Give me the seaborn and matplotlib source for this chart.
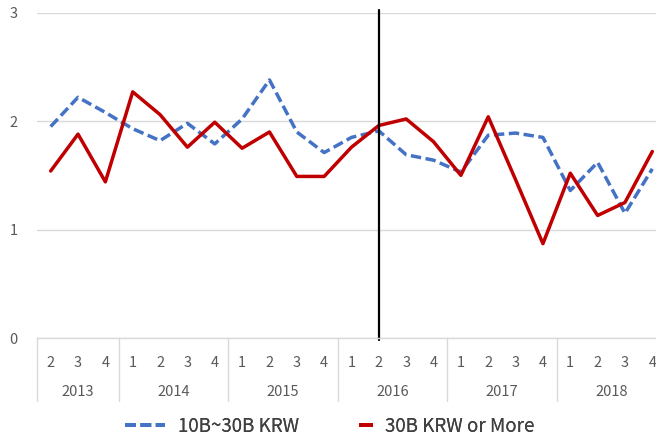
import numpy as np
import pandas as pd
import matplotlib
matplotlib.use("Agg")
import matplotlib.pyplot as plt
import matplotlib.transforms as mtransforms
from matplotlib.lines import Line2D
import seaborn as sns

# --- Data ---
YEARS = [2013, 2013, 2013,
         2014, 2014, 2014, 2014,
         2015, 2015, 2015, 2015,
         2016, 2016, 2016, 2016,
         2017, 2017, 2017, 2017,
         2018, 2018, 2018, 2018]
QUARTERS = [2, 3, 4,
            1, 2, 3, 4,
            1, 2, 3, 4,
            1, 2, 3, 4,
            1, 2, 3, 4,
            1, 2, 3, 4]
MID_SIZE = [1.95, 2.22, 2.08, 1.93, 1.82, 1.98, 1.79, 2.02, 2.38, 1.90, 1.71,
            1.85, 1.91, 1.69, 1.64, 1.53, 1.87, 1.89, 1.85, 1.36, 1.62, 1.15, 1.56]
LARGE = [1.54, 1.88, 1.44, 2.27, 2.06, 1.76, 1.99, 1.75, 1.90, 1.49, 1.49,
         1.76, 1.96, 2.02, 1.81, 1.50, 2.04, 1.46, 0.87, 1.52, 1.13, 1.25, 1.72]
SERIES = ['10B~30B KRW', '30B KRW or More']
COLORS = {'10B~30B KRW': '#4472C4', '30B KRW or More': '#C00000'}
MARK_PERIOD = (2016, 2)

GRID = '#d9d9d9'
TEXT = '#595959'

# --- Build long-form table ---
pos = np.arange(len(QUARTERS))
df = pd.concat([
    pd.DataFrame({'pos': pos, 'value': MID_SIZE, 'series': SERIES[0]}),
    pd.DataFrame({'pos': pos, 'value': LARGE, 'series': SERIES[1]}),
])

sns.set_theme(style="white")
plt.rcParams['font.family'] = ['Noto Sans CJK KR', 'DejaVu Sans']

W, H = 656, 437
fig = plt.figure(figsize=(W / 100, H / 100), dpi=100)
ax_left, ax_right, ax_top, ax_bottom = 37, 666, 12.7, 338
ax = fig.add_axes([ax_left / W, 1 - ax_bottom / H,
                   (ax_right - ax_left) / W, (ax_bottom - ax_top) / H])

sns.lineplot(data=df, x='pos', y='value', hue='series', style='series',
             palette=COLORS, dashes={SERIES[0]: (3.0, 1.3), SERIES[1]: ''},
             linewidth=2.5, legend=False, ax=ax)

ax.set_xlim(-0.5, len(QUARTERS) - 0.5)
ax.set_ylim(0, 3)
ax.set_yticks([0, 1, 2, 3])
ax.yaxis.grid(True, color=GRID, linewidth=1)
ax.set_axisbelow(True)
for side in ['left', 'right', 'top']:
    ax.spines[side].set_visible(False)
ax.spines['bottom'].set_color(GRID)
ax.spines['bottom'].set_linewidth(1)
ax.tick_params(axis='y', length=0, pad=14, labelsize=10.5, labelcolor=TEXT)
ax.tick_params(axis='x', length=0, pad=13, labelsize=10.5, labelcolor=TEXT)
ax.set_xticks(pos)
ax.set_xticklabels([str(q) for q in QUARTERS])
ax.set_xlabel('')
ax.set_ylabel('')

# Year groups and separators below the axis
trans = mtransforms.blended_transform_factory(ax.transData, ax.transAxes)
sep_depth = -(401 - ax_bottom) / (ax_bottom - ax_top)
year_y = -(392 - ax_bottom) / (ax_bottom - ax_top)
years_unique = list(dict.fromkeys(YEARS))
for yr in years_unique:
    idx = [i for i, y in enumerate(YEARS) if y == yr]
    start, end = idx[0] - 0.5, idx[-1] + 0.5
    ax.add_line(Line2D([start, start], [0, sep_depth], transform=trans,
                       color=GRID, linewidth=1, clip_on=False))
    ax.text((start + end) / 2, year_y, str(yr), transform=trans,
            ha='center', va='center', fontsize=10.5, color=TEXT)

# Vertical marker line
mark_idx = [i for i in range(len(YEARS)) if (YEARS[i], QUARTERS[i]) == MARK_PERIOD][0]
ax.axvline(mark_idx, ymin=-0.006, ymax=1.008, color='black', linewidth=1.6, clip_on=False)

# Legend: two single-entry legends so each handle keeps its own length
leg_y = 1 - 426 / H
blue_handle = Line2D([], [], color=COLORS[SERIES[0]], linewidth=2.8,
                     dashes=(2.8, 1.15), solid_capstyle='butt', dash_capstyle='butt')
red_handle = Line2D([], [], color=COLORS[SERIES[1]], linewidth=2.8, solid_capstyle='butt')
for handle, label, x0, hlen, tpad in [(blue_handle, SERIES[0], 125, 2.13, 0.7),
                                      (red_handle, SERIES[1], 359, 0.75, 0.65)]:
    leg = fig.legend([handle], [label], loc='center left', bbox_to_anchor=(x0 / W, leg_y),
                     frameon=False, fontsize=13.5, handlelength=hlen, handletextpad=tpad,
                     borderpad=0, borderaxespad=0, labelcolor='#404040')
    fig.add_artist(leg)

fig.savefig('out.png', dpi=100)
